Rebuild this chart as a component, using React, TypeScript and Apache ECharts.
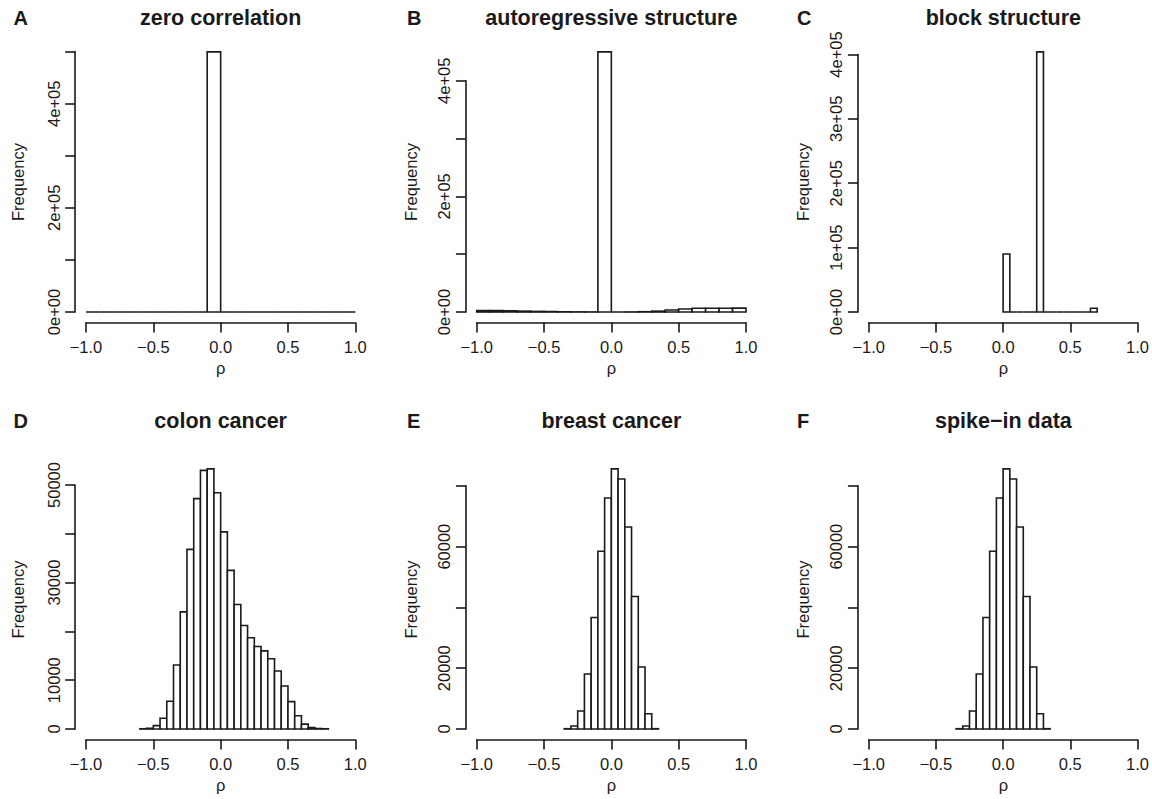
import React, { useEffect, useRef } from "react";
import * as echarts from "echarts";

// ---------- data ----------
const panelLetters = ["A", "B", "C", "D", "E", "F"];
const panelTitles = [
  "zero correlation",
  "autoregressive structure",
  "block structure",
  "colon cancer",
  "breast cancer",
  "spike\u2212in data",
];

const xTickValues = [-1, -0.5, 0, 0.5, 1];
const xTickLabels = ["\u22121.0", "\u22120.5", "0.0", "0.5", "1.0"];

// histogram bins: first edge, bin width, counts
const binStart = [-1, -1, 0, -0.6, -0.35, -0.35];
const binWidth = [0.1, 0.1, 0.05, 0.05, 0.05, 0.05];

const countsA = [0, 0, 0, 0, 0, 0, 0, 0, 0, 499500, 0, 0, 0, 0, 0, 0, 0, 0, 0, 0];
const countsB = [2500, 2500, 2000, 1500, 1000, 800, 400, 200, 100, 450000, 0, 100, 500, 1500, 3500, 5200, 6500, 6500, 6500, 6700];
const countsC = [90000, 0, 0, 0, 0, 404000, 0, 0, 0, 0, 0, 0, 0, 5800];
const countsD = [50, 150, 700, 2200, 5700, 13100, 24000, 36800, 47200, 53000, 53300, 48400, 40400, 32500, 25500, 21200, 18700, 16900, 16000, 14400, 11900, 8800, 5600, 2700, 1000, 300, 100, 50];
const countsE = [100, 1000, 5900, 18100, 36700, 58500, 76000, 85600, 82300, 66500, 43600, 20400, 5000, 100];
const countsF = [100, 1000, 5900, 18100, 36700, 58500, 76000, 85600, 82300, 66500, 43600, 20400, 5000, 100];
const allCounts = [countsA, countsB, countsC, countsD, countsE, countsF];

// y-axis ticks
const yTickStep = [100000, 100000, 100000, 10000, 20000, 20000];
const yTickTop = [500000, 400000, 400000, 50000, 80000, 80000];
const yLabelsA = ["0e+00", "", "2e+05", "", "4e+05", ""];
const yLabelsB = ["0e+00", "", "2e+05", "", "4e+05"];
const yLabelsC = ["0e+00", "1e+05", "2e+05", "3e+05", "4e+05"];
const yLabelsD = ["0", "10000", "", "30000", "", "50000"];
const yLabelsE = ["0", "20000", "", "60000", ""];
const yLabelsF = ["0", "20000", "", "60000", ""];
const allYLabels = [yLabelsA, yLabelsB, yLabelsC, yLabelsD, yLabelsE, yLabelsF];

// ---------- layout ----------
const FONT = "'Liberation Sans', Arial, Helvetica, sans-serif";
const INK = "#1a1a1a";
const LW = 1.6;
const colLeft = [86, 476.7, 868.7]; // pixel of rho = -1
const plotW = 269.3; // -1 .. 1
const rowZero = [312, 729]; // pixel of count 0
const dataH = 260.1; // pixel height of 0 .. max count
const colLetterX = [13.5, 407, 797];
const colFreqX = [18.2, 411, 802.5];
const rowTitleY = [17.5, 421];
const rowFreqY = [182, 599.5];
const rowRhoY = [367.5, 784.7];

function buildOption() {
  const grids: any[] = [];
  const xAxes: any[] = [];
  const yAxes: any[] = [];
  const series: any[] = [];
  const graphics: any[] = [];

  for (let i = 0; i < 6; i++) {
    const col = i % 3;
    const row = Math.floor(i / 3);
    const counts = allCounts[i];
    const ymax = Math.max(...counts);
    const gh = (yTickTop[i] / ymax) * dataH;
    const top = rowZero[row] - gh;
    grids.push({ left: colLeft[col], top, width: plotW, height: gh, containLabel: false });

    xAxes.push({
      gridIndex: i,
      type: "value",
      min: -1,
      max: 1,
      interval: 0.5,
      offset: 10.4,
      axisLine: { show: true, onZero: false, lineStyle: { color: INK, width: LW } },
      axisTick: { show: true, length: 10, lineStyle: { color: INK, width: LW } },
      splitLine: { show: false },
      axisLabel: {
        margin: 16,
        color: INK,
        fontSize: 16.5,
        fontFamily: FONT,
        formatter: (v: number) => {
          const k = xTickValues.findIndex((t) => Math.abs(t - v) < 1e-9);
          return k >= 0 ? xTickLabels[k] : "";
        },
      },
    });

    const labels = allYLabels[i];
    const step = yTickStep[i];
    yAxes.push({
      gridIndex: i,
      type: "value",
      min: 0,
      max: yTickTop[i],
      interval: step,
      offset: 10.8,
      axisLine: { show: true, onZero: false, lineStyle: { color: INK, width: LW } },
      axisTick: { show: true, length: 10, lineStyle: { color: INK, width: LW } },
      splitLine: { show: false },
      axisLabel: {
        rotate: 90,
        margin: 13,
        color: INK,
        fontSize: 16.5,
        fontFamily: FONT,
        formatter: (v: number) => {
          const k = Math.round(v / step);
          return labels[k] !== undefined ? labels[k] : "";
        },
      },
    });

    const data = counts.map((c, j) => [
      binStart[i] + j * binWidth[i],
      binStart[i] + (j + 1) * binWidth[i],
      c,
    ]);
    series.push({
      type: "custom",
      xAxisIndex: i,
      yAxisIndex: i,
      clip: false,
      silent: true,
      encode: { x: [0, 1], y: 2 },
      data,
      renderItem: (params: any, api: any) => {
        const p0 = api.coord([api.value(0), 0]);
        const p1 = api.coord([api.value(1), api.value(2)]);
        return {
          type: "rect",
          shape: { x: p0[0], y: p1[1], width: p1[0] - p0[0], height: p0[1] - p1[1] },
          style: { fill: "#ffffff", stroke: INK, lineWidth: LW },
        };
      },
    });

    const cx = colLeft[col] + plotW / 2;
    graphics.push({
      type: "text",
      x: cx,
      y: rowTitleY[row],
      style: {
        text: panelTitles[i],
        fill: INK,
        fontSize: 21.5,
        fontWeight: "bold",
        fontFamily: FONT,
        align: "center",
        verticalAlign: "middle",
      },
    });
    graphics.push({
      type: "text",
      x: colLetterX[col],
      y: rowTitleY[row],
      style: {
        text: panelLetters[i],
        fill: INK,
        fontSize: 20,
        fontWeight: "bold",
        fontFamily: FONT,
        align: "left",
        verticalAlign: "middle",
      },
    });
    graphics.push({
      type: "text",
      x: colFreqX[col],
      y: rowFreqY[row],
      rotation: Math.PI / 2,
      style: {
        text: "Frequency",
        fill: INK,
        fontSize: 16.5,
        fontFamily: FONT,
        align: "center",
        verticalAlign: "middle",
      },
    });
    graphics.push({
      type: "text",
      x: cx,
      y: rowRhoY[row],
      style: {
        text: "\u03c1",
        fill: INK,
        fontSize: 16.5,
        fontFamily: FONT,
        align: "center",
        verticalAlign: "middle",
      },
    });
  }

  return {
    animation: false,
    backgroundColor: "#ffffff",
    grid: grids,
    xAxis: xAxes,
    yAxis: yAxes,
    series,
    graphic: graphics,
  };
}

export default function App() {
  const ref = useRef<HTMLDivElement>(null);
  useEffect(() => {
    if (!ref.current) return;
    const chart = echarts.init(ref.current, undefined, { renderer: "svg" });
    chart.setOption(buildOption() as any);
    return () => chart.dispose();
  }, []);
  return (
    <div
      ref={ref}
      style={{ position: "absolute", left: 0, top: 0, width: 1152, height: 799, background: "#fff" }}
    />
  );
}
